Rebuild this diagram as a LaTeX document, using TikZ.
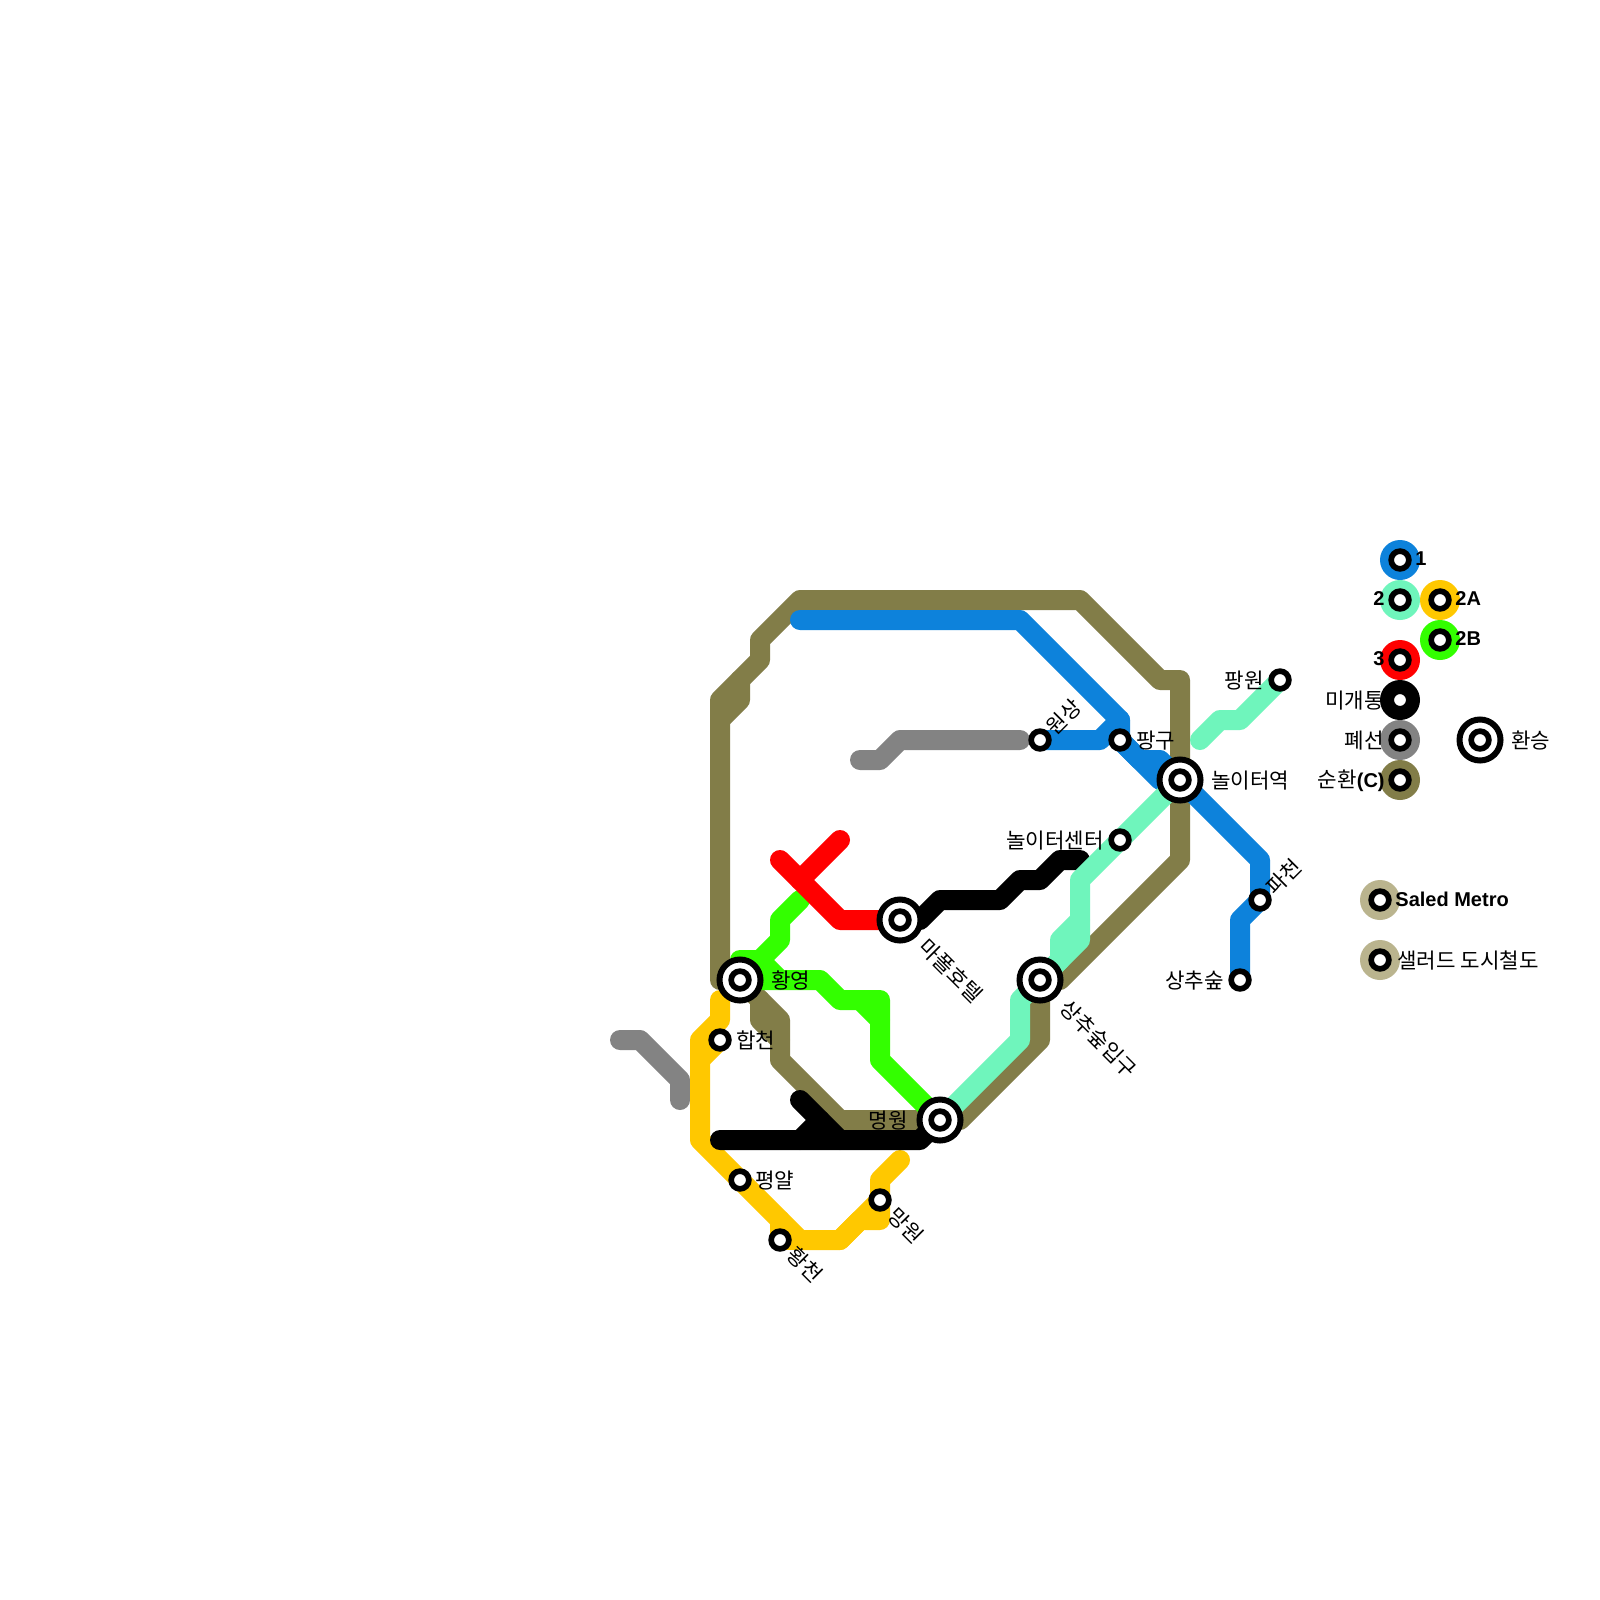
\documentclass[tikz,border=0pt]{standalone}
\usepackage{fontspec}
\setmainfont{Liberation Sans}
\newfontfamily\ko{Noto Sans CJK KR}
\definecolor{cbrown}{HTML}{827D48}
\definecolor{cblue}{HTML}{0D82DB}
\definecolor{cmint}{HTML}{6FF5BC}
\definecolor{cgreen}{HTML}{33FF00}
\definecolor{cred}{HTML}{FF0000}
\definecolor{cyel}{HTML}{FFC800}
\definecolor{cgray}{HTML}{838383}
\definecolor{ctan}{HTML}{BAB48E}
\tikzset{
  route/.style={line width=10pt,line cap=round,line join=round},
  stn/.style={circle,draw=black,fill=white,line width=2.85pt,minimum size=8.85pt,inner sep=0pt,outer sep=0pt},
  hubring/.style={circle,draw=black,fill=white,line width=3pt,minimum size=20.5pt,inner sep=0pt,outer sep=0pt},
  disc/.style={circle,fill=#1,minimum size=20pt,inner sep=0pt,outer sep=0pt},
  lab/.style={font=\ko\fontsize{10.6}{12}\selectfont,inner sep=0pt,text=black},
  labE/.style={lab,anchor=west,yshift=-0.4pt},
  labW/.style={lab,anchor=east,yshift=-0.4pt},
  labSE/.style={lab,anchor=west,rotate=-45},
  labNE/.style={lab,anchor=west,rotate=45},
  leg/.style={font=\bfseries\fontsize{10}{12}\selectfont,inner sep=0pt,text=black},
}
\begin{document}
\begin{tikzpicture}[x=0.5pt,y=-0.5pt]
\useasboundingbox[fill=white] (0,0) rectangle (1600,1600);
% station positions
\coordinate (hy) at (740,980);
\coordinate (mh) at (900,920);
\coordinate (ss) at (1040,980);
\coordinate (mw) at (940,1120);
\coordinate (no) at (1180,780);
\coordinate (ws) at (1040,740);
\coordinate (pg) at (1120,740);
\coordinate (pw) at (1280,680);
\coordinate (nc) at (1120,840);
\coordinate (pc) at (1260,900);
\coordinate (sc) at (1240,980);
\coordinate (hc) at (720,1040);
\coordinate (py) at (740,1180);
\coordinate (hw) at (780,1240);
\coordinate (mg) at (880,1200);
% brown loop
\draw[route,cbrown] (hy) -- (720,980) -- (720,700) -- (760,660) -- (760,640) -- (800,600) -- (1080,600) -- (1160,680) -- (1180,680) -- (no) -- (1180,860) -- (1060,980) -- (ss) -- (1040,1040) -- (960,1120) -- (mw) -- (840,1120) -- (780,1060) -- (780,1020) -- (hy);
\draw[route,cbrown] (740,680) -- (740,700) -- (720,720);
\draw[route,cbrown] (760,1000) -- (760,1020) -- (780,1040);
% gray
\draw[route,cgray] (620,1040) -- (640,1040) -- (680,1080) -- (680,1100);
\draw[route,cgray] (860,760) -- (880,760) -- (900,740) -- (1020,740);
% blue
\draw[route,cblue] (800,620) -- (1020,620) -- (1120,720) -- (pg) -- (1160,780) -- (no) -- (1260,860) -- (pc) -- (1240,920) -- (sc);
\draw[route,cblue] (ws) -- (1100,740) -- (1120,720);
\draw[route,cblue] (pg) -- (1140,760) -- (1160,760) -- (no);
% green
\draw[route,cgreen] (800,900) -- (780,920) -- (780,940) -- (760,960) -- (740,960) -- (hy) -- (820,980) -- (840,1000) -- (880,1000) -- (880,1060) -- (mw);
\draw[route,cgreen] (760,960) -- (780,980);
\draw[route,cgreen] (860,1000) -- (880,1020);
% red
\draw[route,cred] (780,860) -- (840,920) -- (mh);
\draw[route,cred] (840,840) -- (800,880);
% yellow
\draw[route,cyel] (720,1000) -- (720,1020) -- (700,1040) -- (700,1140) -- (py) -- (800,1240) -- (840,1240) -- (860,1220) -- (880,1220) -- (mg) -- (880,1180) -- (900,1160);
\draw[route,cyel] (hc) -- (700,1060);
\draw[route,cyel] (780,1220) -- (hw) -- (800,1240);
\draw[route,cyel] (840,1240) -- (mg);
% black
\draw[route,black] (720,1140) -- (920,1140) -- (mw);
\draw[route,black] (800,1100) -- (840,1140);
\draw[route,black] (800,1140) -- (820,1120);
\draw[route,black] (mh) -- (920,920) -- (940,900) -- (1000,900) -- (1020,880) -- (1040,880) -- (1060,860) -- (1080,860);
% mint
\draw[route,cmint] (mw) -- (1020,1040) -- (1020,1000) -- (ss) -- (1060,960) -- (1060,940) -- (1080,920) -- (1080,880) -- (no);
\draw[route,cmint] (1080,920) -- (1080,940) -- (ss);
\draw[route,cmint] (1200,740) -- (1220,720) -- (1240,720) -- (pw);
% interchange stations
\node[hubring] (hyo) at (hy) {}; \node[stn] (hyi) at (hy) {};
\node[hubring] (mho) at (mh) {}; \node[stn] (mhi) at (mh) {};
\node[hubring] (sso) at (ss) {}; \node[stn] (ssi) at (ss) {};
\node[hubring] (mwo) at (mw) {}; \node[stn] (mwi) at (mw) {};
\node[hubring] (noo) at (no) {}; \node[stn] (noi) at (no) {};
% plain stations
\node[stn] (wsi) at (ws) {};
\node[stn] (pgi) at (pg) {};
\node[stn] (pwi) at (pw) {};
\node[stn] (nci) at (nc) {};
\node[stn] (pci) at (pc) {};
\node[stn] (sci) at (sc) {};
\node[stn] (hci) at (hc) {};
\node[stn] (pyi) at (py) {};
\node[stn] (hwi) at (hw) {};
\node[stn] (mgi) at (mg) {};
% labels
\node[labE] (lhy) at (771,980) {황영};
\node[labSE] (lmh) at (923,943) {마폴호텔};
\node[labSE] (lss) at (1064,1004) {상추숲입구};
\node[labW] (lmw) at (908,1120) {명웡};
\node[labE] (lno) at (1211,780) {놀이터역};
\node[labNE] (lws) at (1050,731) {원상};
\node[labE] (lpg) at (1136,740) {팡구};
\node[labW] (lpw) at (1264,680) {팡원};
\node[labW] (lnc) at (1104,840) {놀이터센터};
\node[labNE] (lpc) at (1270,891) {파천};
\node[labSE] (lhw) at (791,1251) {황천};
\node[labSE] (lmg) at (892,1212) {망원};
\node[labW] (lsc) at (1224,980) {상추숲};
\node[labE] (lhc) at (736,1040) {합천};
\node[labE] (lpy) at (755,1180) {평얄};
% legend
\node[disc=cblue] (d1) at (1400,560) {}; \node[stn] (s1) at (1400,560) {};
\node[disc=cmint] (d2) at (1400,600) {}; \node[stn] (s2) at (1400,600) {};
\node[disc=cyel] (d2a) at (1440,600) {}; \node[stn] (s2a) at (1440,600) {};
\node[disc=cgreen] (d2b) at (1440,640) {}; \node[stn] (s2b) at (1440,640) {};
\node[disc=cred] (d3) at (1400,660) {}; \node[stn] (s3) at (1400,660) {};
\node[disc=black] (d4) at (1400,700) {}; \node[stn] (s4) at (1400,700) {};
\node[disc=cgray] (d5) at (1400,740) {}; \node[stn] (s5) at (1400,740) {};
\node[disc=cbrown] (d6) at (1400,780) {}; \node[stn] (s6) at (1400,780) {};
\node[hubring] (dh) at (1480,740) {}; \node[stn] (sh) at (1480,740) {};
\node[disc=ctan] (d7) at (1380,900) {}; \node[stn] (s7) at (1380,900) {};
\node[disc=ctan] (d8) at (1380,960) {}; \node[stn] (s8) at (1380,960) {};
\node[leg,anchor=west] (t1) at (1415,559) {1};
\node[leg,anchor=east] (t2) at (1385,599) {2};
\node[leg,anchor=west] (t2a) at (1455,599) {2A};
\node[leg,anchor=west] (t2b) at (1455,639) {2B};
\node[leg,anchor=east] (t3) at (1385,659) {3};
\node[labW] (t4) at (1384,700) {미개통};
\node[labW] (t5) at (1384,740) {폐선};
\node[lab,anchor=east,yshift=-0.4pt] (t6) at (1385,780) {순환{\rmfamily\bfseries\fontsize{10}{12}\selectfont(C)}};
\node[labE] (t7) at (1511,740) {환승};
\node[leg,anchor=west] (t8) at (1395,899) {Saled Metro};
\node[labE] (t9) at (1397,960) {샐러드 도시철도};
\end{tikzpicture}
\end{document}
